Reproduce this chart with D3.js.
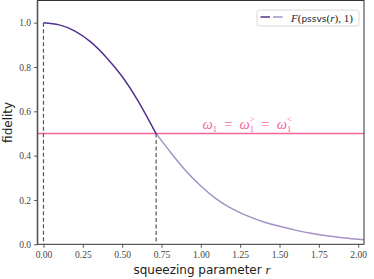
<!DOCTYPE html>
<html>
<head>
<meta charset="utf-8">
<script src="https://cdn.jsdelivr.net/npm/d3@7"></script>
<style>
  html, body { margin: 0; padding: 0; background: #fff; }
  svg { display: block; }
</style>
</head>
<body>
<svg id="chart" width="374" height="279"></svg>
<script>
// squeezing parameter r and fidelity
const rValues = [0, 0.1, 0.2, 0.3, 0.4, 0.5, 0.6, 0.7, 0.716, 0.8, 0.9, 1.0, 1.1, 1.2, 1.3, 1.4, 1.5, 1.6, 1.7, 1.8, 1.9, 2.0, 2.04];
const fidelity = [1.0, 0.99, 0.962, 0.913, 0.843, 0.757, 0.648, 0.52, 0.5, 0.422, 0.335, 0.263, 0.204, 0.16, 0.127, 0.101, 0.081, 0.064, 0.05, 0.039, 0.03, 0.023, 0.02];
const rCross = 0.716;      // where the curve meets the threshold
const threshold = 0.5;
const xTicks = [0, 0.25, 0.5, 0.75, 1.0, 1.25, 1.5, 1.75, 2.0];
const yTicks = [0, 0.2, 0.4, 0.6, 0.8, 1.0];

const svg = d3.select("#chart");
const plot = { left: 37.5, right: 364, top: 0.5, bottom: 244.3 };

const x = d3.scaleLinear().domain([-0.038, 2.037]).range([plot.left, plot.right]);
const y = d3.scaleLinear().domain([0, 1.1]).range([plot.bottom, plot.top]);

const data = rValues.map((r, i) => ({ r, f: fidelity[i] }));

svg.append("clipPath").attr("id", "clip")
  .append("rect")
  .attr("x", plot.left).attr("y", plot.top)
  .attr("width", plot.right - plot.left)
  .attr("height", plot.bottom - plot.top);

// threshold line (outside the clipped group)
svg.append("path")
  .attr("d", `M${plot.left},${y(threshold)}H${plot.right}`)
  .attr("fill", "none")
  .style("stroke", "#f0649c")
  .style("stroke-width", 1.3);

const g = svg.append("g").attr("clip-path", "url(#clip)");

const line = d3.line()
  .x(d => x(d.r))
  .y(d => y(d.f))
  .curve(d3.curveNatural);

// dashed markers
g.append("line")
  .attr("x1", x(0)).attr("x2", x(0))
  .attr("y1", y(1)).attr("y2", y(0))
  .attr("stroke", "#555")
  .attr("stroke-width", 1.2)
  .attr("stroke-dasharray", "4,2.5");

g.append("line")
  .attr("x1", x(rCross)).attr("x2", x(rCross))
  .attr("y1", y(threshold)).attr("y2", y(0))
  .attr("stroke", "#555")
  .attr("stroke-width", 1.2)
  .attr("stroke-dasharray", "4,2.5");

// curve: dark before the crossing, light after
g.append("path")
  .datum(data.filter(d => d.r >= rCross))
  .attr("d", line)
  .attr("fill", "none")
  .attr("stroke", "#a592c9")
  .attr("stroke-width", 1.5);

g.append("path")
  .datum(data.filter(d => d.r <= rCross))
  .attr("d", line)
  .attr("fill", "none")
  .attr("stroke", "#53318f")
  .attr("stroke-width", 1.5);

// threshold label
const lbl = svg.append("text")
  .attr("x", x(1.01))
  .attr("y", y(threshold) - 4.5)
  .attr("fill", "#f0649c")
  .attr("font-family", "'Liberation Serif', serif")
  .attr("font-size", 14.5);

function omegaTerm(parent, sup, last) {
  parent.append("tspan").attr("font-style", "italic").text("ω");
  if (sup) {
    const s = parent.append("tspan").attr("font-size", 8.5).attr("dy", -6.5).text(sup);
    const w = s.node().getComputedTextLength();
    parent.append("tspan").attr("font-size", 8.5).attr("dx", -w).attr("dy", 10).text("1");
    if (!last) parent.append("tspan").attr("dy", -3.5).text("\u2002=\u2002");
  } else {
    parent.append("tspan").attr("font-size", 8.5).attr("dy", 3.5).text("1");
    parent.append("tspan").attr("dy", -3.5).text("\u2002=\u2002");
  }
}
omegaTerm(lbl, null, false);
omegaTerm(lbl, ">", false);
omegaTerm(lbl, "<", true);

// axes
const xAxis = svg.append("g")
  .attr("transform", `translate(0,${plot.bottom})`)
  .call(d3.axisBottom(x).tickValues(xTicks).tickFormat(d3.format(".2f")).tickSize(3.5).tickPadding(3));

const yAxis = svg.append("g")
  .attr("transform", `translate(${plot.left},0)`)
  .call(d3.axisLeft(y).tickValues(yTicks).tickFormat(d3.format(".1f")).tickSize(3.5).tickPadding(3));

[xAxis, yAxis].forEach(a => {
  a.select(".domain").remove();
  a.selectAll(".tick line").attr("stroke", "#333").attr("stroke-width", 0.8);
  a.selectAll(".tick text")
    .attr("fill", "#444")
    .attr("font-family", "'Liberation Serif', serif")
    .attr("font-size", 9.5);
});

// frame
svg.append("rect")
  .attr("x", plot.left).attr("y", plot.top)
  .attr("width", plot.right - plot.left)
  .attr("height", plot.bottom - plot.top)
  .attr("fill", "none")
  .attr("stroke", "#333")
  .attr("stroke-width", 1);
svg.append("line")
  .attr("x1", plot.left).attr("x2", plot.left)
  .attr("y1", plot.top).attr("y2", plot.bottom)
  .attr("stroke", "#555")
  .attr("stroke-width", 1.6);

// axis titles
const xt = svg.append("text")
  .attr("x", 202)
  .attr("y", 274)
  .attr("text-anchor", "middle")
  .attr("fill", "#222")
  .attr("font-family", "'DejaVu Sans', sans-serif")
  .attr("font-size", 12);
xt.append("tspan").text("squeezing parameter ");
xt.append("tspan")
  .attr("font-family", "'Liberation Serif', serif")
  .attr("font-style", "italic")
  .attr("font-size", 13)
  .text("r");

svg.append("text")
  .attr("transform", `translate(12,${(plot.top + plot.bottom) / 2}) rotate(-90)`)
  .attr("text-anchor", "middle")
  .attr("fill", "#222")
  .attr("font-family", "'DejaVu Sans', sans-serif")
  .attr("font-size", 12)
  .text("fidelity");

// legend
const legend = svg.append("g").attr("transform", "translate(257,10)");
legend.append("rect")
  .attr("width", 102).attr("height", 16).attr("rx", 2.5)
  .attr("fill", "#fff").attr("fill-opacity", 0.8)
  .attr("stroke", "#d0d0d0").attr("stroke-width", 0.8);
legend.append("line")
  .attr("x1", 3.5).attr("x2", 13).attr("y1", 7).attr("y2", 7)
  .attr("stroke", "#53318f").attr("stroke-width", 1.5);
legend.append("line")
  .attr("x1", 16).attr("x2", 25.5).attr("y1", 7).attr("y2", 7)
  .attr("stroke", "#a592c9").attr("stroke-width", 1.5);

const lt = legend.append("text")
  .attr("x", 34).attr("y", 11.5)
  .attr("fill", "#222")
  .attr("font-family", "'Liberation Serif', serif")
  .attr("font-size", 11);
lt.append("tspan").attr("font-style", "italic").text("F");
lt.append("tspan").text("(");
lt.append("tspan").attr("font-family", "'DejaVu Sans', sans-serif").attr("font-size", 9).text("pssvs");
lt.append("tspan").text("(");
lt.append("tspan").attr("font-style", "italic").text("r");
lt.append("tspan").text("), 1)");
</script>
</body>
</html>
